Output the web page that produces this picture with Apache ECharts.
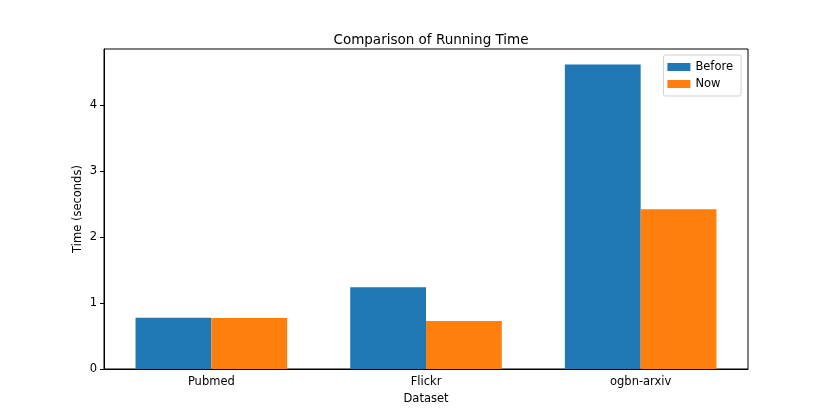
<!DOCTYPE html>
<html><head><meta charset="utf-8">
<script src="https://cdn.jsdelivr.net/npm/echarts@6/dist/echarts.min.js"></script>
<style>html,body{margin:0;padding:0;background:#fff}#c{width:830px;height:415px}</style>
</head><body><div id="c"></div>
<script>
const categories = ['Pubmed', 'Flickr', 'ogbn-arxiv'];
const beforeValues = [0.775, 1.24, 4.615];
const nowValues = [0.773, 0.727, 2.42];
const yTicks = [0, 1, 2, 3, 4];

const font = 'DejaVu Sans';
const chart = echarts.init(document.getElementById('c'), null, {renderer: 'canvas'});
chart.setOption({
  animation: false,
  backgroundColor: '#fff',
  title: {
    text: 'Comparison of Running Time', left: 426, top: 28, textAlign: 'center',
    textStyle: {fontFamily: font, fontSize: 13.5, fontWeight: 'normal', color: '#000'}
  },
  legend: {
    right: 89, top: 55, orient: 'vertical', itemWidth: 23, itemHeight: 8, itemGap: 5,
    padding: [6, 8, 6, 4], borderColor: '#d0d0d0', borderWidth: 1, borderRadius: 2,
    backgroundColor: 'rgba(255,255,255,0.8)',
    icon: 'rect',
    textStyle: {fontFamily: font, fontSize: 11.5, color: '#000'},
    data: ['Before', 'Now']
  },
  grid: {left: 104, right: 82, top: 49, bottom: 46, show: true, borderColor: '#000', borderWidth: 1, backgroundColor: 'transparent'},
  xAxis: {
    type: 'category', data: categories,
    name: 'Dataset', nameLocation: 'middle', nameGap: 24, nameMoveOverlap: false,
    nameTextStyle: {fontFamily: font, fontSize: 11.5, color: '#000'},
    axisLine: {lineStyle: {color: '#000', width: 1}},
    axisTick: {alignWithLabel: true, length: 4, lineStyle: {color: '#000'}},
    axisLabel: {fontFamily: font, fontSize: 11.5, color: '#000', margin: 7}
  },
  yAxis: {
    type: 'value', min: 0, max: 4.85, interval: 1,
    name: 'Time (seconds)', nameLocation: 'middle', nameGap: 20, nameMoveOverlap: false,
    nameTextStyle: {fontFamily: font, fontSize: 11.5, color: '#000'},
    axisLine: {show: true, lineStyle: {color: '#000', width: 1}},
    axisTick: {show: true, length: 4, lineStyle: {color: '#000'}, customValues: yTicks},
    splitLine: {show: false},
    axisLabel: {fontFamily: font, fontSize: 11.5, color: '#000', margin: 7, customValues: yTicks}
  },
  series: [
    {name: 'Before', type: 'bar', data: beforeValues, barWidth: 75.8, barGap: '0%', itemStyle: {color: '#1f77b4'}},
    {name: 'Now', type: 'bar', data: nowValues, barWidth: 75.8, barGap: '0%', itemStyle: {color: '#ff7f0e'}}
  ]
});
</script></body></html>
